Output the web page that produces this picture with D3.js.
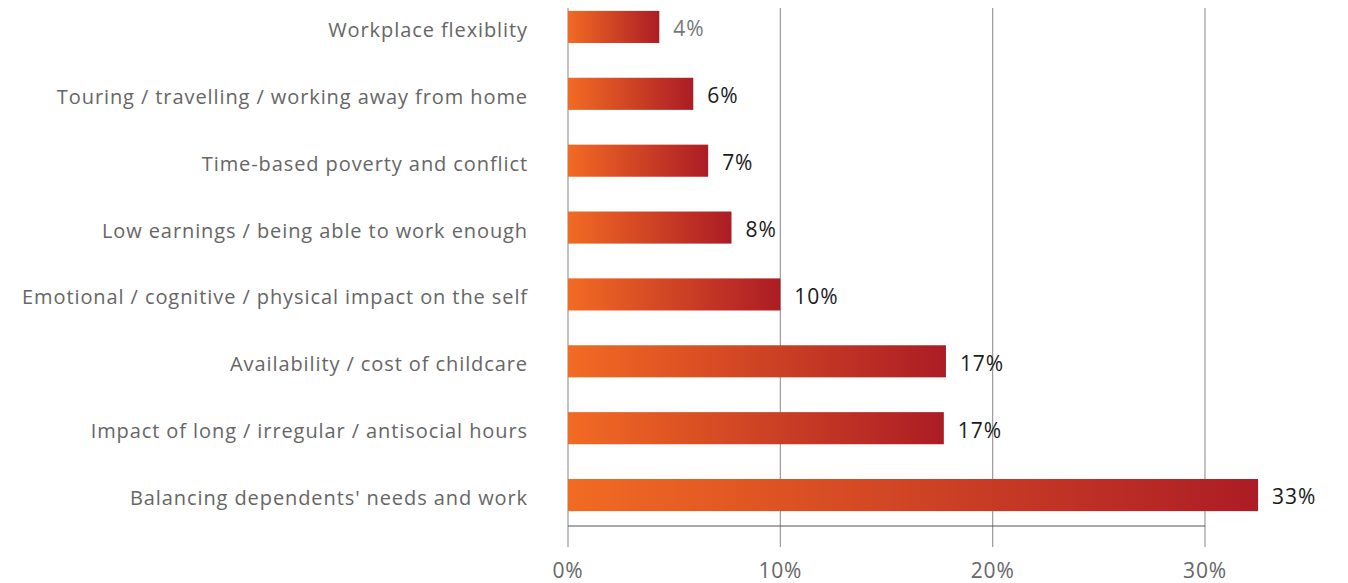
<!DOCTYPE html>
<html><head><meta charset="utf-8">
<script src="https://cdn.jsdelivr.net/npm/d3@7"></script>
<style>body{margin:0;background:#fff}svg{display:block}</style>
</head><body>
<svg id="c" width="1348" height="583"></svg>
<script>
const categories = [
  "Workplace flexiblity",
  "Touring / travelling / working away from home",
  "Time-based poverty and conflict",
  "Low earnings / being able to work enough",
  "Emotional / cognitive / physical impact on the self",
  "Availability / cost of childcare",
  "Impact of long / irregular / antisocial hours",
  "Balancing dependents' needs and work"
];
const values = [4.3, 5.9, 6.6, 7.7, 10.0, 17.8, 17.7, 32.5];
const valueLabels = ["4%", "6%", "7%", "8%", "10%", "17%", "17%", "33%"];
const tickValues = [0, 10, 20, 30];

const svg = d3.select("#c");
const font = "'Open Sans', sans-serif";
const x = d3.scaleLinear().domain([0, 30]).range([568, 1205]);
const y = d3.scaleBand().domain(categories).range([-6.5, 528.5]).paddingInner(0.52).paddingOuter(0.26);

const defs = svg.append("defs");
const grad = defs.append("linearGradient").attr("id", "g").attr("x1", "0%").attr("x2", "100%").attr("y1", "0").attr("y2", "0");
grad.append("stop").attr("offset", "0%").attr("stop-color", "#F26B23");
grad.append("stop").attr("offset", "100%").attr("stop-color", "#AC1C25");

svg.append("g").selectAll("line").data(tickValues).join("line")
  .attr("x1", d => x(d)).attr("x2", d => x(d))
  .attr("y1", 8).attr("y2", 547)
  .attr("stroke", "#9a9a9a").attr("stroke-width", 1.2);

svg.append("line").attr("x1", x(0)).attr("x2", x(30)).attr("y1", 526).attr("y2", 526)
  .attr("stroke", "#555").attr("stroke-width", 1.2);

svg.append("g").selectAll("text").data(tickValues).join("text")
  .attr("x", d => x(d)).attr("y", 578).attr("text-anchor", "middle")
  .attr("font-family", font).attr("font-size", 21).attr("fill", "#666")
  .attr("letter-spacing", 0.8)
  .text(d => d + "%");

svg.append("g").selectAll("rect").data(values).join("rect")
  .attr("x", x(0)).attr("y", (d, i) => y(categories[i]))
  .attr("width", d => x(d) - x(0)).attr("height", y.bandwidth())
  .attr("fill", "url(#g)");

const labs = svg.append("g").selectAll("text").data(categories).join("text")
  .attr("x", 528).attr("y", d => y(d) + y.bandwidth() / 2 + 3)
  .attr("dy", "0.35em").attr("text-anchor", "end")
  .attr("font-family", font).attr("font-size", 20).attr("fill", "#666")
  .text(d => d);
const longest = labs.nodes()[4];
const w = longest.getComputedTextLength();
const ls = Math.max(0, (506 - w) / categories[4].length);
labs.attr("letter-spacing", ls);

svg.append("g").selectAll("text").data(values).join("text")
  .attr("x", d => x(d) + 14).attr("y", (d, i) => y(categories[i]) + y.bandwidth() / 2 + 2)
  .attr("dy", "0.35em")
  .attr("font-family", font).attr("font-size", 21)
  .attr("letter-spacing", 0.9)
  .attr("fill", (d, i) => i === 0 ? "#777" : "#1a1a1a")
  .text((d, i) => valueLabels[i]);
</script>
</body></html>
